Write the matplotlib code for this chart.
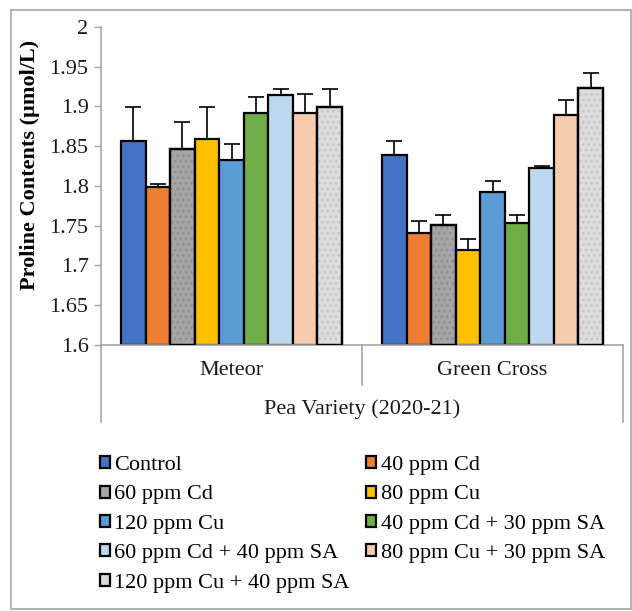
import numpy as np
import matplotlib
matplotlib.use('Agg')
import matplotlib.pyplot as plt
from matplotlib.lines import Line2D
from matplotlib.patches import Rectangle, Patch

plt.rcParams['font.family'] = ['Liberation Serif', 'DejaVu Serif']

# data
varieties = ['Meteor', 'Green Cross']
treatments = ['Control', '40 ppm Cd', '60 ppm Cd', '80 ppm Cu', '120 ppm Cu',
              '40 ppm Cd + 30 ppm SA', '60 ppm Cd + 40 ppm SA',
              '80 ppm Cu + 30 ppm SA', '120 ppm Cu + 40 ppm SA']
meteor = [1.857, 1.799, 1.847, 1.859, 1.833, 1.892, 1.915, 1.892, 1.899]
green_cross = [1.839, 1.741, 1.751, 1.719, 1.792, 1.754, 1.823, 1.889, 1.923]
meteor_err = [0.043, 0.003, 0.033, 0.041, 0.020, 0.020, 0.007, 0.024, 0.023]
green_cross_err = [0.018, 0.015, 0.012, 0.014, 0.014, 0.010, 0.002, 0.019, 0.019]
colors = ['#4472C4', '#ED7D31', '#A5A5A5', '#FFC000', '#5B9BD5',
          '#70AD47', '#BDD7EE', '#F8CBAD', '#DCDCDC']
# dotted texture colour for the grey bars (None = plain fill)
dots = [None, None, '#8f8f8f', None, None, None, None, None, '#c4c4c4']

values = np.array([meteor, green_cross])
errors = np.array([meteor_err, green_cross_err])

fig = plt.figure(figsize=(6.32, 6.11), dpi=100)
# outer chart frame
fig.patches.append(Rectangle((11 / 632, 2 / 611), 620 / 632, 599 / 611,
                             transform=fig.transFigure, fill=False,
                             edgecolor='#A6A6A6', linewidth=1.2))

ax = fig.add_axes([101 / 632, 1 - 345 / 611, 522 / 632, 318 / 611])

n = len(treatments)
w = 0.094
centers = np.arange(len(varieties)) + 0.5
handles = []
for j in range(n):
    x = centers + (j - (n - 1) / 2) * w
    ax.bar(x, values[:, j] - 1.6, w, bottom=1.6, color=colors[j],
           edgecolor='black', linewidth=1.6, zorder=2)
    if dots[j]:
        ax.bar(x, values[:, j] - 1.6, w, bottom=1.6, color='none',
               edgecolor=dots[j], linewidth=0, hatch='...', zorder=2.5)
        ax.bar(x, values[:, j] - 1.6, w, bottom=1.6, color='none',
               edgecolor='black', linewidth=1.6, zorder=2.6)
    ax.errorbar(x, values[:, j], yerr=[np.zeros(2), errors[:, j]], fmt='none',
                ecolor='black', elinewidth=1.2, capsize=5.5, capthick=1.2, zorder=3)
    handles.append(Patch(facecolor=colors[j], edgecolor='black', linewidth=1.6))

ax.set_xlim(0, 2)
ax.set_ylim(1.6, 2.0)
yt = np.arange(1.6, 2.0001, 0.05)
ax.set_yticks(yt)
ax.set_yticklabels(['%g' % round(t, 2) for t in yt])
ax.set_xticks([])
ax.tick_params(axis='y', direction='out', length=5, width=1, color='#A6A6A6',
               labelsize=16, pad=4, labelcolor='#1a1a1a')
for s in ['top', 'right']:
    ax.spines[s].set_visible(False)
for s in ['left', 'bottom']:
    ax.spines[s].set_color('#A6A6A6')
    ax.spines[s].set_linewidth(1.2)

# multi level category axis
tr = ax.get_xaxis_transform()
for i, name in enumerate(varieties):
    ax.text(centers[i], -0.079, name, transform=tr, ha='center', va='center',
            fontsize=16, color='#1a1a1a')
ax.add_line(Line2D([1, 1], [0, -0.126], transform=tr, color='#A6A6A6',
                   linewidth=1.2, clip_on=False))
for xe in [0, 2]:
    ax.add_line(Line2D([xe, xe], [0, -0.242], transform=tr, color='#A6A6A6',
                       linewidth=1.2, clip_on=False))
ax.text(1, -0.201, 'Pea Variety (2020-21)', transform=tr, ha='center',
        va='center', fontsize=16, color='#1a1a1a')

fig.text(30 / 632, 1 - 165 / 611, 'Proline Contents (µmol/L)', rotation=90,
         ha='center', va='center', fontsize=16, fontweight='bold')

# legend filled row by row like the original
order = [0, 2, 4, 6, 8, 1, 3, 5, 7]
fig.legend([handles[k] for k in order], [treatments[k] for k in order],
           ncol=2, loc='upper left', mode='expand',
           bbox_to_anchor=(100 / 632, 1 - 456 / 611, 505 / 632, 0),
           frameon=False, fontsize=16, handlelength=0.45, handleheight=0.45,
           handletextpad=0.2, labelspacing=0.47, borderpad=0, borderaxespad=0)

fig.savefig('out.png', dpi=100)
